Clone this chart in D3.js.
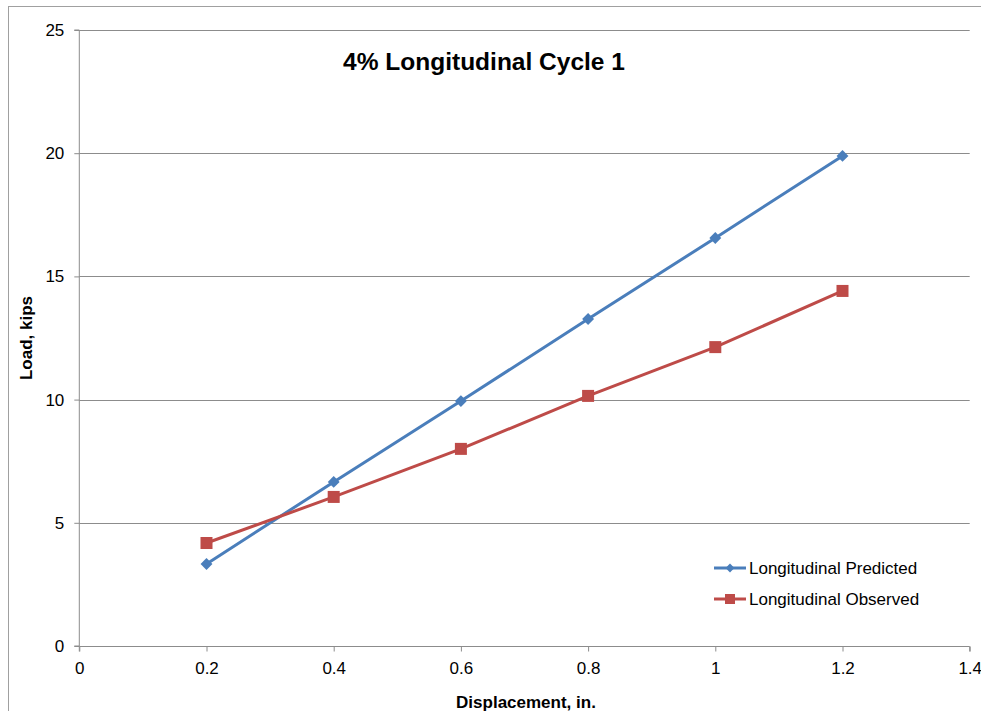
<!DOCTYPE html>
<html><head><meta charset="utf-8">
<script src="https://cdn.jsdelivr.net/npm/d3@7"></script>
<style>body{margin:0;background:#fff;}svg{display:block;font-family:"Liberation Sans",Arial,sans-serif;}</style>
</head><body>
<svg id="c" width="981" height="711"></svg>
<script>
const displacement = [0.2, 0.4, 0.6, 0.8, 1.0, 1.2];
const predicted = [3.33, 6.66, 9.94, 13.27, 16.56, 19.89];
const observed = [4.18, 6.05, 8.0, 10.15, 12.13, 14.41];
const xTicks = [0, 0.2, 0.4, 0.6, 0.8, 1, 1.2, 1.4];
const yTicks = [0, 5, 10, 15, 20, 25];
const seriesNames = ["Longitudinal Predicted", "Longitudinal Observed"];

const svg = d3.select("#c");
const L = 79.3, R = 969.7, T = 30, B = 646;
const x = d3.scaleLinear().domain([0, 1.4]).range([L, R]);
const y = d3.scaleLinear().domain([0, 25]).range([B, T]);

svg.append("rect").attr("x", 8.5).attr("y", 6.5).attr("width", 1000).attr("height", 1000)
  .attr("fill", "#fff").attr("stroke", "#a0a0a0").attr("stroke-width", 1);

// gridlines
svg.append("g").selectAll("line").data(yTicks.filter(d => d > 0)).join("line")
  .attr("x1", L).attr("x2", R).attr("y1", d => Math.round(y(d)) + 0.5).attr("y2", d => Math.round(y(d)) + 0.5)
  .attr("stroke", "#8c8c8c").attr("stroke-width", 1);

// axes
const xAxis = d3.axisBottom(x).tickValues(xTicks).tickSize(5).tickPadding(10).tickFormat(d3.format("~g"));
const gx = svg.append("g").attr("transform", `translate(0,${B + 0.5})`).call(xAxis);
const yAxis = d3.axisLeft(y).tickValues(yTicks).tickSize(5).tickPadding(10).tickFormat(d3.format("~g"));
const gy = svg.append("g").attr("transform", `translate(${L},0)`).call(yAxis);
[gx, gy].forEach(g => {
  g.select(".domain").attr("stroke", "#8c8c8c");
  g.selectAll(".tick line").attr("stroke", "#8c8c8c");
  g.selectAll(".tick text").attr("fill", "#000").attr("font-size", 17).attr("font-family", "Liberation Sans, Arial, sans-serif");
});
gx.select(".domain").attr("d", `M${L},5V0H${R}V5`);
gy.select(".domain").attr("d", `M-5,${B}H0V${T}H-5`);

// titles
svg.append("text").attr("x", 484).attr("y", 70).attr("text-anchor", "middle")
  .attr("font-size", 24.5).attr("font-weight", "bold").text("4% Longitudinal Cycle 1");
svg.append("text").attr("transform", "translate(32,338) rotate(-90)").attr("text-anchor", "middle")
  .attr("font-size", 17).attr("font-weight", "bold").text("Load, kips");
svg.append("text").attr("x", 526).attr("y", 708).attr("text-anchor", "middle")
  .attr("font-size", 17).attr("font-weight", "bold").text("Displacement, in.");

const colors = ["#4a7ebb", "#be4b48"];
const series = [predicted, observed];
const line = d3.line().x((d, i) => x(displacement[i])).y(d => y(d));
series.forEach((s, k) => {
  svg.append("path").datum(s).attr("d", line).attr("fill", "none")
    .attr("stroke", colors[k]).attr("stroke-width", 3).attr("stroke-linejoin", "round");
});
// markers
const diamond = d3.symbol().type(d3.symbolDiamond2).size(90);
svg.append("g").selectAll("path").data(predicted).join("path")
  .attr("transform", (d, i) => `translate(${x(displacement[i])},${y(d)})`)
  .attr("d", diamond).attr("fill", colors[0]);
svg.append("g").selectAll("rect").data(observed).join("rect")
  .attr("x", (d, i) => x(displacement[i]) - 6).attr("y", d => y(d) - 6)
  .attr("width", 12).attr("height", 12).attr("fill", colors[1]);

// legend
const lg = svg.append("g");
seriesNames.forEach((n, k) => {
  const yy = 568 + k * 31;
  lg.append("line").attr("x1", 714).attr("x2", 746).attr("y1", yy).attr("y2", yy)
    .attr("stroke", colors[k]).attr("stroke-width", 3);
  if (k === 0) {
    lg.append("path").attr("transform", `translate(730,${yy})`).attr("d", d3.symbol().type(d3.symbolDiamond2).size(50)).attr("fill", colors[0]);
  } else {
    lg.append("rect").attr("x", 725).attr("y", yy - 5).attr("width", 10).attr("height", 10).attr("fill", colors[1]);
  }
  lg.append("text").attr("x", 749).attr("y", yy + 6).attr("font-size", 17).text(n);
});
</script>
</body></html>
